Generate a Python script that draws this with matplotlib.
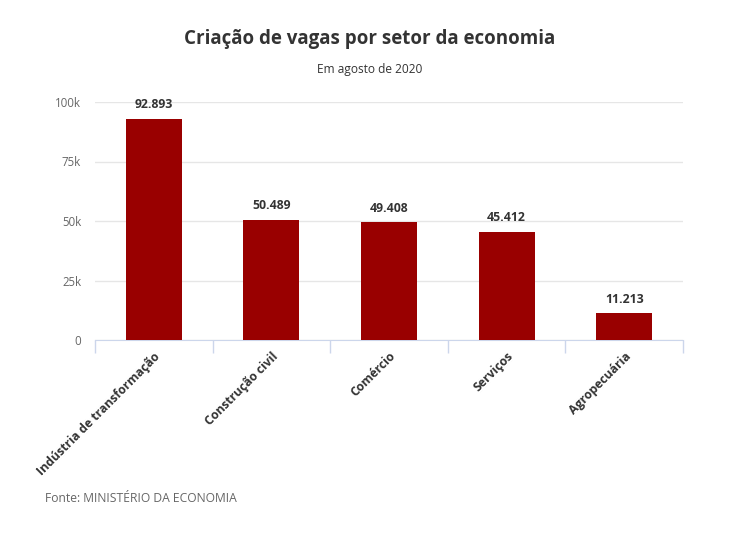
import matplotlib
matplotlib.use('Agg')
import matplotlib.pyplot as plt
import numpy as np

plt.rcParams['font.family'] = ['Open Sans', 'DejaVu Sans']

# Data
setores = ['Indústria de transformação', 'Construção civil', 'Comércio', 'Serviços', 'Agropecuária']
vagas = [92893, 50489, 49408, 45412, 11213]
rotulos = ['92.893', '50.489', '49.408', '45.412', '11.213']
yticks = [0, 25000, 50000, 75000, 100000]
ytick_labels = ['0', '25k', '50k', '75k', '100k']

fig = plt.figure(figsize=(7.45, 5.4), dpi=100)
ax = fig.add_axes([95 / 745, 1 - 340 / 540, (683 - 95) / 745, (340 - 102) / 540])

x = np.arange(len(setores))
ax.bar(x, vagas, width=0.476, color='#990000', zorder=3)

for xi, v, lab in zip(x, vagas, rotulos):
    ax.text(xi, v + 3200, lab, ha='center', va='bottom', fontsize=8.8, fontweight='bold',
            color='#333333', clip_on=False)

ax.set_xlim(-0.5, len(setores) - 0.5)
ax.set_ylim(0, 100000)
ax.set_yticks(yticks)
ax.set_yticklabels(ytick_labels, fontsize=8.3, color='#666666')
ax.tick_params(axis='y', length=0, pad=10)
ax.grid(axis='y', color='#e6e6e6', linewidth=1, zorder=0)

ax.set_xticks(x)
ax.set_xticklabels(setores, rotation=45, ha='right', rotation_mode='anchor',
                   fontsize=8.8, fontweight='bold', color='#333333')
ax.tick_params(axis='x', which='major', length=0, pad=7)
ax.set_xticks(np.arange(-0.5, len(setores)), minor=True)
ax.tick_params(axis='x', which='minor', length=9, color='#ccd6eb', width=1)

for s in ['top', 'right', 'left']:
    ax.spines[s].set_visible(False)
ax.spines['bottom'].set_color('#ccd6eb')

fig.text(370 / 745, 1 - 39 / 540, 'Criação de vagas por setor da economia', ha='center', va='center',
         fontsize=13.5, fontweight='bold', color='#333333')
fig.text(370 / 745, 1 - 69 / 540, 'Em agosto de 2020', ha='center', va='center',
         fontsize=8.6, color='#333333')
fig.text(45 / 745, 1 - 498 / 540, 'Fonte: MINISTÉRIO DA ECONOMIA', ha='left', va='center',
         fontsize=8.7, color='#666666')

fig.savefig('out.png', dpi=100)
